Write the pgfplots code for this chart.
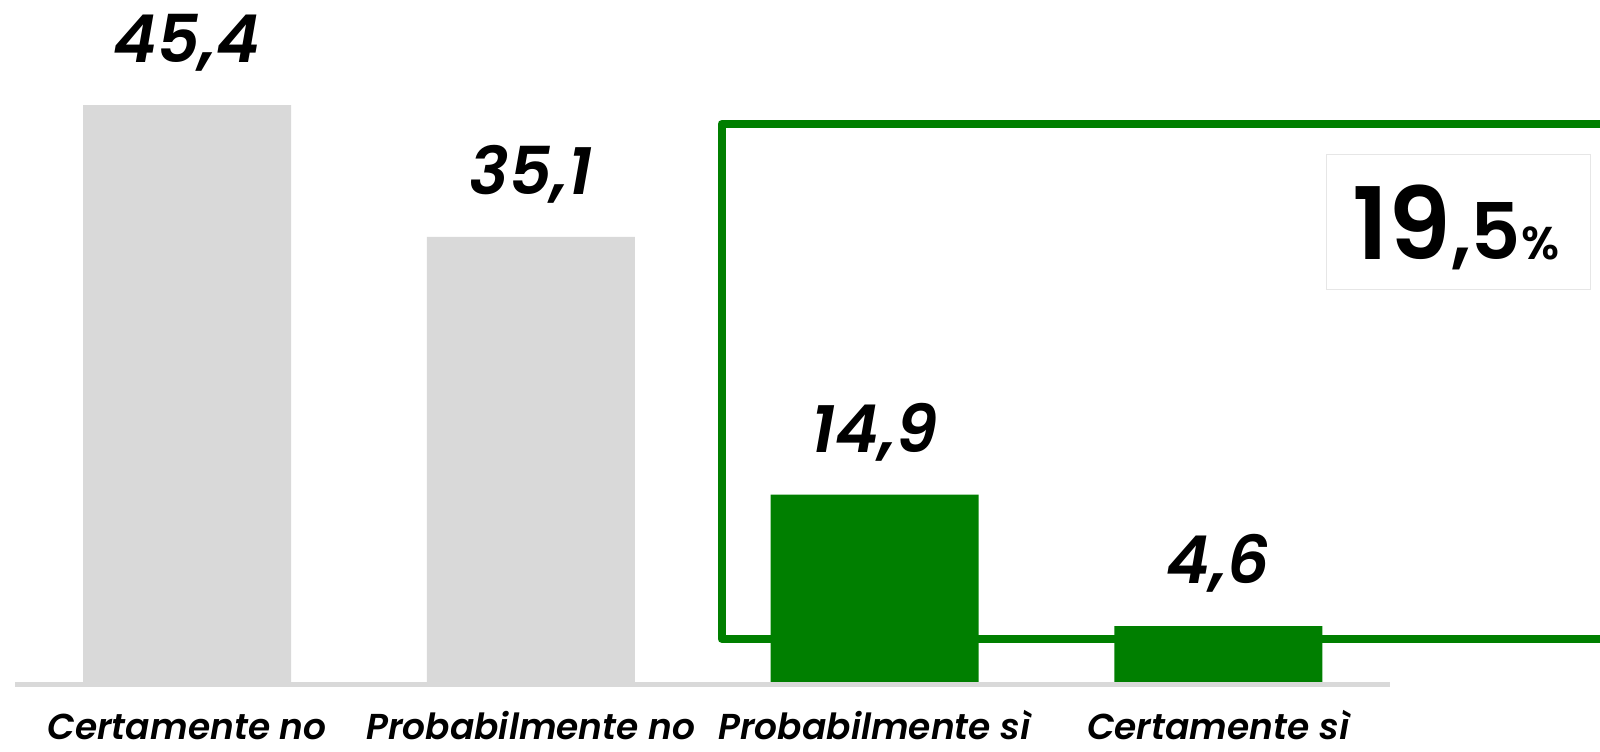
\documentclass[border=0pt]{standalone}
\usepackage{pgfplots}
\pgfplotsset{compat=1.18}
\usepackage{fontspec}
\setmainfont{Poppins}[BoldFont=Poppins SemiBold, BoldItalicFont=Poppins SemiBold Italic]
\definecolor{bargray}{HTML}{D9D9D9}
\definecolor{bargreen}{HTML}{007F00}
\definecolor{boxgray}{HTML}{E6E6E6}
\begin{document}
\begin{tikzpicture}
\begin{axis}[
  scale only axis, width=1600pt, height=752pt,
  xmin=-0.5445, xmax=4.1107, ymin=-5.247, ymax=53.64,
  axis line style={draw=none},
  ytick=\empty,
  xtick={0,1,2,3},
  xticklabels={Certamente no, Probabilmente no, Probabilmente sì, Certamente sì},
  major tick length=0pt,
  xticklabel style={anchor=base, inner sep=0pt, yshift=12pt, font=\fontsize{36}{40}\selectfont\bfseries\itshape},
  ybar, bar width=208pt, bar shift=0pt,
  clip=false,
  nodes near coords,
  /pgf/number format/.cd, use comma, fixed, fixed zerofill, precision=1, assume math mode=true,
  /pgfplots/.cd,
  every node near coord/.append style={anchor=base, yshift=42.5pt, font=\fontsize{66}{72}\selectfont\bfseries\itshape, text=black},
]
\coordinate (BL) at (rel axis cs:0,0);
\coordinate (TR) at (rel axis cs:1,1);
\draw[bargreen, line width=8pt, line join=round]
  (rel axis cs:1.05,0.1503) -- (rel axis cs:0.451,0.1503) -- (rel axis cs:0.451,0.8351) -- (rel axis cs:1.05,0.8351);
\addplot[fill=bargray, draw=none] coordinates {(0,45.4) (1,35.1)};
\addplot[fill=bargreen, draw=none] coordinates {(2,14.9) (3,4.6)};
\draw[bargray, line width=5pt] (axis cs:-0.5,0) -- (axis cs:3.5,0);
\draw[boxgray, line width=1.2pt, fill=white] (rel axis cs:0.8292,0.7948) rectangle (rel axis cs:0.9942,0.6153);
\node[anchor=base, inner sep=0pt] at (rel axis cs:0.9099,0.6543)
  {{\fontsize{100}{100}\selectfont\bfseries 19}{\fontsize{78}{78}\selectfont\bfseries ,5}{\fontsize{46}{46}\selectfont\bfseries\%}};
\end{axis}
\pgfresetboundingbox
\path[use as bounding box] (BL) rectangle (TR);
\end{tikzpicture}
\end{document}
